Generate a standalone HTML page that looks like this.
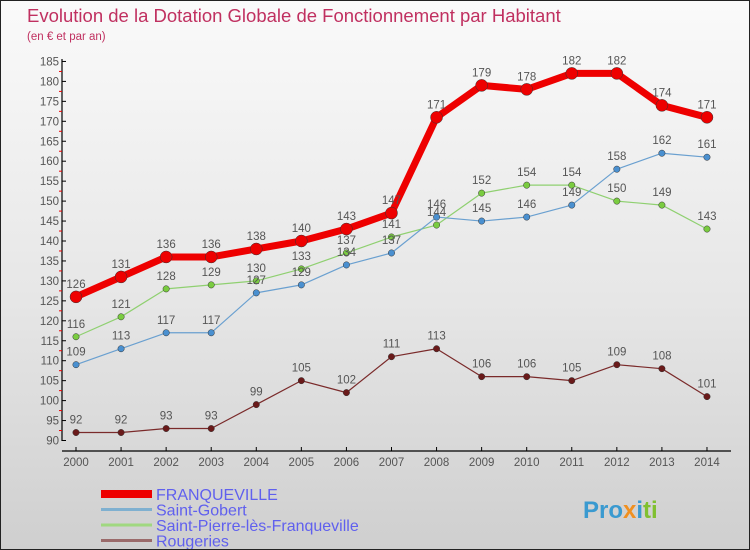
<!DOCTYPE html>
<html><head><meta charset="utf-8"><style>
body{margin:0}
#c{width:750px;height:550px;position:relative;background:linear-gradient(#fafafa,#e6e6e6 55%,#cfcfcf);border:1px solid #222;box-sizing:border-box;overflow:hidden;font-family:"Liberation Sans",sans-serif}
</style></head><body>
<div id="c">
<svg id="s" width="750" height="550" style="position:absolute;left:0;top:0"></svg>
</div>
<script>
const years=[2000,2001,2002,2003,2004,2005,2006,2007,2008,2009,2010,2011,2012,2013,2014];
const franqueville=[126,131,136,136,138,140,143,147,171,179,178,182,182,174,171];
const saintGobert=[109,113,117,117,127,129,134,137,146,145,146,149,158,162,161];
const saintPierre=[116,121,128,129,130,133,137,141,144,152,154,154,150,149,143];
const rougeries=[92,92,93,93,99,105,102,111,113,106,106,105,109,108,101];
const yTicks=[90,95,100,105,110,115,120,125,130,135,140,145,150,155,160,165,170,175,180,185];
const seriesNames=["FRANQUEVILLE","Saint-Gobert","Saint-Pierre-lès-Franqueville","Rougeries"];
const NS="http://www.w3.org/2000/svg",s=document.getElementById('s');
const X=i=>75+i*45.07, Y=v=>439.5-(v-90)*3.99;
function el(t,a,p){const e=document.createElementNS(NS,t);for(const k in a)e.setAttribute(k,a[k]);(p||s).appendChild(e);return e;}
function tx(x,y,str,a,p){const e=el('text',Object.assign({x:x,y:y},a),p);e.textContent=str;return e;}
let t=tx(26,21,"Evolution de la Dotation Globale de Fonctionnement par Habitant",{fill:'#c03060','font-size':18.5});

t=tx(26,39,"(en € et par an)",{fill:'#c03060','font-size':11.5});

let a=el('line',{x1:61,y1:58,x2:61,y2:440,stroke:'#000','stroke-width':1.2});

a=el('line',{x1:61,y1:450,x2:730,y2:450,stroke:'#000','stroke-width':1.2});

yTicks.forEach(v=>{el('line',{x1:61,y1:Y(v),x2:65,y2:Y(v),stroke:'#000'});
 if(v<185)el('line',{x1:58,y1:Y(v+2.5),x2:61,y2:Y(v+2.5),stroke:'#e00'});
 const l=tx(58,Y(v)+4,v,{'text-anchor':'end','font-size':11.5,fill:'#555'});
 });
years.forEach((y,i)=>{el('line',{x1:X(i),y1:446,x2:X(i),y2:450,stroke:'#000'});
 const l=tx(X(i),465,y,{'text-anchor':'middle','font-size':11.5,fill:'#555'});
 });
function series(d,col,w,r,dot,name){
 const g=el('g',{});
 el('polyline',{points:d.map((v,i)=>X(i)+','+Y(v)).join(' '),fill:'none',stroke:col,'stroke-width':w,'stroke-linejoin':'round'},g);
 d.forEach((v,i)=>{el('circle',{cx:X(i),cy:Y(v),r:r,fill:dot,stroke:'#333','stroke-width':0.5},g);
  tx(X(i),Y(v)-9,v,{'text-anchor':'middle','font-size':11.5,fill:'#555'},g);});
}
series(rougeries,'#7a2a2a',1.2,3.2,'#6a1a1a','series-rougeries');
series(saintPierre,'#8fd070',1.2,3.2,'#7acc40','series-saint-pierre');
series(saintGobert,'#6aa0d0',1.2,3.2,'#4a90d0','series-saint-gobert');
series(franqueville,'#ee0000',7,6,'#ee0000','series-franqueville');
const lc=['#ee0000','#7fb0d0','#a0d880','#9a6a6a'],lw=[8,3,3,3];
seriesNames.forEach((n,i)=>{const g=el('g',{});
 const y=493+i*15.5;el('line',{x1:100,y1:y,x2:151,y2:y,stroke:lc[i],'stroke-width':lw[i]},g);
 tx(155,y+6,n,{'font-size':16,fill:'#6060ee'},g);});
const p=tx(582,517,"Pro",{'font-size':24,'font-weight':'bold',fill:'#3a9ad0'});

const t1=document.createElementNS(NS,'tspan');t1.setAttribute('fill','#f09020');t1.textContent='x';p.appendChild(t1);
const t2=document.createElementNS(NS,'tspan');t2.setAttribute('fill','#3a9ad0');t2.textContent='i';p.appendChild(t2);
const t3=document.createElementNS(NS,'tspan');t3.setAttribute('fill','#80c030');t3.textContent='ti';p.appendChild(t3);
</script>
</body></html>
